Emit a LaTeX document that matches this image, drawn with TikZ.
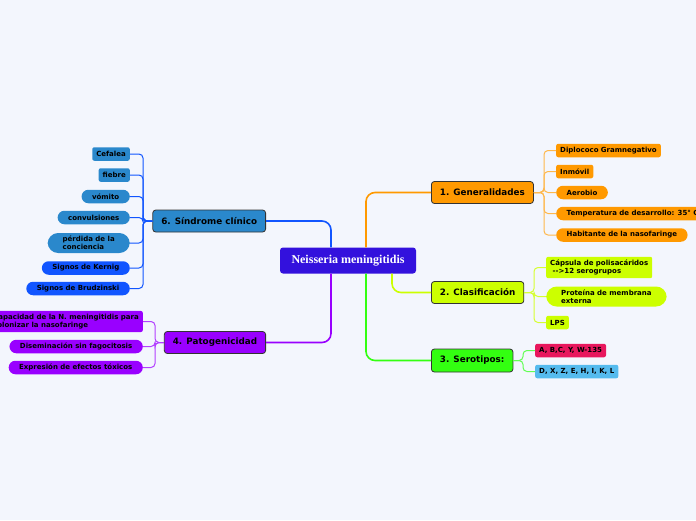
\documentclass[tikz,border=0pt]{standalone}
\usepackage{fontspec}
\usepackage{tikz}
\newfontfamily\mapfont{DejaVu Sans}
\newfontfamily\rootfont{Liberation Serif}
\definecolor{bgcol}{HTML}{F3F6FD}
\definecolor{rootcol}{HTML}{3311DD}
\definecolor{sindcol}{HTML}{2A88CC}
\definecolor{signcol}{HTML}{1155FF}
\definecolor{patocol}{HTML}{9900FF}
\definecolor{gencol}{HTML}{FF9900}
\definecolor{clascol}{HTML}{CCFF00}
\definecolor{serocol}{HTML}{33FF11}
\definecolor{abccol}{HTML}{E8175D}
\definecolor{dxzcol}{HTML}{55BBEE}

\begin{document}
\begin{tikzpicture}[x=1pt,y=-1pt,
root/.style={fill=rootcol,text=white,rounded corners=3pt,minimum height=26pt,inner xsep=11.5pt,font=\rootfont\bfseries\fontsize{12}{14}\selectfont},
topic/.style={draw=black!80,line width=0.8pt,rounded corners=3pt,minimum height=22pt,inner xsep=8.5pt,font=\mapfont\bfseries\fontsize{8.8}{10}\selectfont},
leaf/.style={rounded corners=2pt,minimum height=13.5pt,inner xsep=4pt,inner ysep=1pt,align=left,font=\mapfont\bfseries\fontsize{7}{8.3}\selectfont},
pill/.style={leaf,rounded corners=6.75pt,inner xsep=10.5pt},
bigpill/.style={leaf,rounded corners=10.5pt,inner xsep=15pt,inner ysep=3pt},
twoline/.style={leaf,inner ysep=3pt},
branch/.style={line width=1.6pt,rounded corners=9pt},
twig/.style={line width=1pt,rounded corners=4pt}]
\path[use as bounding box,fill=bgcol] (0,0) rectangle (696,520);

% centre and main topics
\node [root] (nm) at (348,260.5) {Neisseria meningitidis};
\node [topic,fill=sindcol,anchor=east] (sind) at (266,221) {6. Síndrome clínico};
\node [topic,fill=patocol,anchor=east] (pato) at (266,342.5) {4. Patogenicidad};
\node [topic,fill=gencol,anchor=west] (gen) at (431,192.5) {1. Generalidades};
\node [topic,fill=clascol,anchor=west] (clas) at (431,292.5) {2. Clasificación};
\node [topic,fill=serocol,anchor=west,minimum height=23pt] (sero) at (431,360.5) {3. Serotipos:};

\draw [branch,signcol] ([xshift=-17pt]nm.north) |- (sind.east);
\draw [branch,patocol] ([xshift=-17pt]nm.south) |- (pato.east);
\draw [branch,gencol] ([xshift=18pt]nm.north) |- (gen.west);
\draw [branch,clascol] ([xshift=44pt]nm.south) |- (clas.west);
\draw [branch,serocol] ([xshift=18pt]nm.south) |- (sero.west);

% 6. Sindrome clinico
\node [leaf,fill=sindcol,anchor=east] (cefalea) at (130,154) {Cefalea};
\node [leaf,fill=sindcol,anchor=east] (fiebre) at (130,175) {fiebre};
\node [pill,fill=sindcol,anchor=east] (vomito) at (130,196.5) {vómito};
\node [pill,fill=sindcol,anchor=east] (convul) at (130,217.5) {convulsiones};
\node [bigpill,fill=sindcol,anchor=east] (perdida) at (130,243) {pérdida de la\\conciencia};
\node [pill,fill=signcol,anchor=east] (kernig) at (130,268) {Signos de Kernig};
\node [pill,fill=signcol,anchor=east] (brudz) at (130,288.5) {Signos de Brudzinski};
\coordinate (sindbus) at (143,221);
\foreach \n in {cefalea,fiebre,vomito,convul,perdida,kernig,brudz}
  \draw [twig,signcol] (sind.west) -- (sindbus) |- (\n.east);

% 4. Patogenicidad
\node [twoline,fill=patocol,anchor=east] (capac) at (143,321.5) {Capacidad de la N. meningitidis para\\colonizar la nasofaringe};
\node [pill,fill=patocol,anchor=east] (disem) at (143,346.5) {Diseminación sin fagocitosis};
\node [pill,fill=patocol,anchor=east] (expres) at (143,367.5) {Expresión de efectos tóxicos};
\coordinate (patobus) at (155,342.5);
\foreach \n in {capac,disem,expres}
  \draw [twig,patocol!75] (pato.west) -- (patobus) |- (\n.east);

% 1. Generalidades
\node [leaf,fill=gencol,anchor=west] (diplo) at (556,150.5) {Diplococo Gramnegativo};
\node [leaf,fill=gencol,anchor=west] (inmovil) at (556,171.5) {Inmóvil};
\node [pill,fill=gencol,anchor=west] (aerobio) at (556,192.5) {Aerobio};
\node [pill,fill=gencol,anchor=west] (temp) at (556,213.5) {Temperatura de desarrollo: 35° C};
\node [pill,fill=gencol,anchor=west] (habit) at (556,235) {Habitante de la nasofaringe};
\coordinate (genbus) at (544,192.5);
\foreach \n in {diplo,inmovil,aerobio,temp,habit}
  \draw [twig,gencol!70] (gen.east) -- (genbus) |- (\n.west);

% 2. Clasificacion
\node [twoline,fill=clascol,anchor=west] (capsula) at (546,267.5) {Cápsula de polisacáridos\\\hspace*{2.5pt}-{}->12 serogrupos};
\node [bigpill,fill=clascol,anchor=west] (proteina) at (546,296.5) {Proteína de membrana\\externa};
\node [leaf,fill=clascol,anchor=west] (lps) at (546,322.5) {LPS};
\coordinate (clasbus) at (534,292.5);
\foreach \n in {capsula,proteina,lps}
  \draw [twig,clascol!80] (clas.east) -- (clasbus) |- (\n.west);

% 3. Serotipos
\node [leaf,fill=abccol,anchor=west] (abc) at (535,350.5) {A, B,C, Y, W-135};
\node [leaf,fill=dxzcol,anchor=west] (dxz) at (535,371.5) {D, X, Z, E, H, I, K, L};
\coordinate (serobus) at (523,360.5);
\foreach \n in {abc,dxz}
  \draw [twig,serocol!60!green!70] (sero.east) -- (serobus) |- (\n.west);
\end{tikzpicture}
\end{document}
